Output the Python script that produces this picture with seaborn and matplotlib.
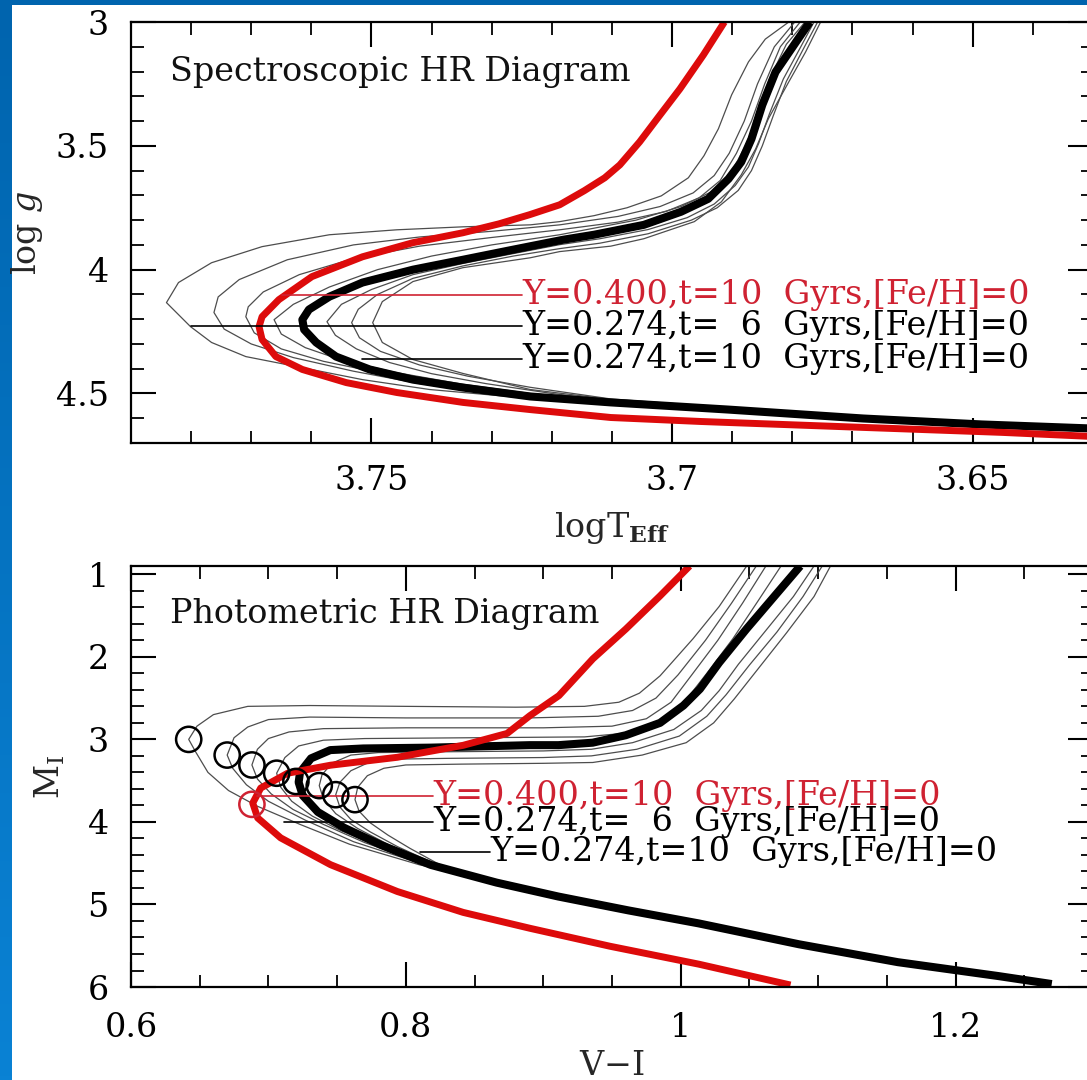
import matplotlib
matplotlib.use("Agg")
import matplotlib.pyplot as plt
from matplotlib.patches import Rectangle
from matplotlib.colors import LinearSegmentedColormap
from matplotlib.ticker import MultipleLocator, FuncFormatter
import numpy as np
import pandas as pd
import seaborn as sns

# ------------------------------------------------------------------
# Isochrones, spectroscopic plane: (log Teff, log g)
# ------------------------------------------------------------------
spec_y400_t10 = [(3.6913, 3.000), (3.6948, 3.133), (3.6987, 3.270), (3.7020, 3.375),
                 (3.7054, 3.484), (3.7087, 3.577), (3.7112, 3.629), (3.7146, 3.681),
                 (3.7187, 3.738), (3.7237, 3.778), (3.7288, 3.815), (3.7348, 3.851),
                 (3.7431, 3.891), (3.7515, 3.948), (3.7599, 4.028), (3.7654, 4.121),
                 (3.7682, 4.190), (3.7687, 4.230), (3.7682, 4.282), (3.7659, 4.351),
                 (3.7615, 4.403), (3.7542, 4.456), (3.7458, 4.496), (3.7348, 4.536),
                 (3.7236, 4.565), (3.7102, 4.597), (3.6953, 4.613), (3.6682, 4.637),
                 (3.6452, 4.657), (3.6306, 4.673)]

spec_y274_t10 = [(3.6771, 3.000), (3.6794, 3.081), (3.6828, 3.202), (3.6850, 3.335),
                 (3.6868, 3.472), (3.6885, 3.565), (3.6906, 3.633), (3.6940, 3.714),
                 (3.6985, 3.766), (3.7047, 3.819), (3.7130, 3.859), (3.7181, 3.879),
                 (3.7264, 3.919), (3.7348, 3.960), (3.7431, 4.000), (3.7515, 4.052),
                 (3.7570, 4.109), (3.7604, 4.161), (3.7615, 4.202), (3.7612, 4.242),
                 (3.7592, 4.294), (3.7559, 4.351), (3.7503, 4.403), (3.7431, 4.444),
                 (3.7348, 4.476), (3.7236, 4.512), (3.7102, 4.536), (3.6906, 4.565),
                 (3.6682, 4.601), (3.6485, 4.625), (3.6306, 4.641)]

spec_y274_t06 = [(3.6806, 3.000), (3.6845, 3.069), (3.6873, 3.161), (3.6901, 3.294),
                 (3.6923, 3.431), (3.6947, 3.540), (3.6973, 3.629), (3.7018, 3.702),
                 (3.7075, 3.750), (3.7130, 3.782), (3.7187, 3.806), (3.7236, 3.819),
                 (3.7348, 3.827), (3.7458, 3.839), (3.7570, 3.859), (3.7682, 3.907),
                 (3.7766, 3.972), (3.7821, 4.052), (3.7841, 4.133), (3.7801, 4.230),
                 (3.7766, 4.294), (3.7709, 4.351), (3.7625, 4.391), (3.7515, 4.444),
                 (3.7403, 4.484), (3.7236, 4.520), (3.7102, 4.540), (3.6906, 4.560),
                 (3.6682, 4.593)]

spec_y274_t07 = [(3.6796, 3.000), (3.6830, 3.100), (3.6858, 3.250), (3.6880, 3.400),
                 (3.6905, 3.530), (3.6930, 3.620), (3.6965, 3.690), (3.7020, 3.745),
                 (3.7090, 3.785), (3.7187, 3.819), (3.7300, 3.845), (3.7420, 3.868),
                 (3.7530, 3.900), (3.7640, 3.960), (3.7720, 4.040), (3.7755, 4.110),
                 (3.7762, 4.173), (3.7745, 4.240), (3.7700, 4.300), (3.7630, 4.355),
                 (3.7530, 4.410), (3.7420, 4.460), (3.7300, 4.500), (3.7150, 4.530),
                 (3.6950, 4.560), (3.6682, 4.597)]

spec_y274_t08 = [(3.6787, 3.000), (3.6820, 3.100), (3.6846, 3.250), (3.6868, 3.400),
                 (3.6893, 3.530), (3.6920, 3.640), (3.6955, 3.710), (3.7010, 3.765),
                 (3.7090, 3.808), (3.7187, 3.839), (3.7300, 3.870), (3.7420, 3.905),
                 (3.7530, 3.955), (3.7620, 4.020), (3.7680, 4.090), (3.7705, 4.150),
                 (3.7709, 4.190), (3.7695, 4.255), (3.7650, 4.320), (3.7580, 4.370),
                 (3.7480, 4.420), (3.7380, 4.460), (3.7260, 4.498), (3.7130, 4.525),
                 (3.6930, 4.558), (3.6682, 4.597)]

spec_y274_t09 = [(3.6779, 3.000), (3.6810, 3.090), (3.6838, 3.230), (3.6858, 3.380),
                 (3.6878, 3.500), (3.6900, 3.600), (3.6930, 3.680), (3.6985, 3.745),
                 (3.7060, 3.800), (3.7187, 3.859), (3.7300, 3.900), (3.7400, 3.945),
                 (3.7490, 4.000), (3.7570, 4.070), (3.7630, 4.140), (3.7662, 4.202),
                 (3.7650, 4.260), (3.7610, 4.315), (3.7550, 4.365), (3.7460, 4.415),
                 (3.7350, 4.462), (3.7236, 4.500), (3.7102, 4.530), (3.6906, 4.562),
                 (3.6682, 4.598)]

spec_y274_t11 = [(3.6764, 3.000), (3.6786, 3.100), (3.6815, 3.230), (3.6838, 3.370),
                 (3.6856, 3.490), (3.6873, 3.585), (3.6895, 3.660), (3.6930, 3.735),
                 (3.6975, 3.790), (3.7040, 3.838), (3.7120, 3.875), (3.7187, 3.899),
                 (3.7264, 3.935), (3.7348, 3.975), (3.7431, 4.020), (3.7500, 4.080),
                 (3.7550, 4.140), (3.7574, 4.210), (3.7560, 4.265), (3.7525, 4.320),
                 (3.7470, 4.375), (3.7400, 4.420), (3.7310, 4.460), (3.7200, 4.500),
                 (3.7102, 4.528), (3.6906, 4.560), (3.6682, 4.597)]

spec_y274_t12 = [(3.6758, 3.000), (3.6782, 3.110), (3.6810, 3.240), (3.6832, 3.380),
                 (3.6850, 3.500), (3.6868, 3.600), (3.6890, 3.680), (3.6925, 3.750),
                 (3.6968, 3.800), (3.7040, 3.855), (3.7120, 3.893), (3.7187, 3.915),
                 (3.7264, 3.945), (3.7348, 3.985), (3.7431, 4.035), (3.7490, 4.100),
                 (3.7522, 4.160), (3.7533, 4.214), (3.7520, 4.275), (3.7485, 4.330),
                 (3.7420, 4.385), (3.7340, 4.430), (3.7236, 4.475), (3.7102, 4.522),
                 (3.6906, 4.557), (3.6682, 4.595)]

spec_y274_t13 = [(3.6753, 3.000), (3.6778, 3.121), (3.6806, 3.242), (3.6840, 3.391),
                 (3.6861, 3.512), (3.6885, 3.617), (3.6918, 3.726), (3.6963, 3.806),
                 (3.7047, 3.875), (3.7102, 3.905), (3.7187, 3.927), (3.7236, 3.952),
                 (3.7348, 3.992), (3.7431, 4.048), (3.7482, 4.129), (3.7498, 4.214),
                 (3.7482, 4.294), (3.7431, 4.363), (3.7348, 4.419), (3.7236, 4.484),
                 (3.7102, 4.524), (3.6906, 4.556), (3.6682, 4.593)]

# ------------------------------------------------------------------
# Isochrones, photometric plane: (V-I, M_I)
# ------------------------------------------------------------------
phot_y400_t10 = [(1.0065, 0.900), (0.9848, 1.265), (0.9601, 1.663), (0.9361, 2.024),
                 (0.9114, 2.470), (0.8904, 2.711), (0.8737, 2.928), (0.8417, 3.072),
                 (0.7938, 3.217), (0.7452, 3.313), (0.7140, 3.410), (0.6944, 3.590),
                 (0.6886, 3.771), (0.6922, 3.952), (0.7089, 4.193), (0.7452, 4.518),
                 (0.7938, 4.843), (0.8417, 5.096), (0.8904, 5.289), (0.9485, 5.506),
                 (1.0131, 5.723), (1.0799, 5.976)]

phot_y274_t10 = [(1.087, 0.90), (1.068, 1.27), (1.048, 1.66), (1.028, 2.07), (1.014, 2.39),
                 (1.002, 2.59), (0.985, 2.80), (0.960, 2.95), (0.936, 3.04), (0.911, 3.07),
                 (0.890, 3.07), (0.818, 3.10), (0.769, 3.11), (0.745, 3.13), (0.731, 3.23),
                 (0.723, 3.40), (0.722, 3.52), (0.725, 3.68), (0.736, 3.88), (0.755, 4.07),
                 (0.782, 4.28), (0.818, 4.52), (0.866, 4.735), (0.911, 4.904), (0.962, 5.072),
                 (1.013, 5.229), (1.086, 5.482), (1.158, 5.699), (1.231, 5.867), (1.270, 5.964)]

phot_y274_t06 = [(1.048, 0.90), (1.028, 1.39), (1.009, 1.78), (0.985, 2.23), (0.970, 2.44),
                 (0.955, 2.55), (0.930, 2.60), (0.880, 2.61), (0.800, 2.60), (0.730, 2.59),
                 (0.685, 2.60), (0.660, 2.70), (0.648, 2.84), (0.642, 3.00), (0.647, 3.15),
                 (0.656, 3.40), (0.671, 3.62), (0.692, 3.81), (0.723, 4.03), (0.759, 4.27),
                 (0.810, 4.52), (0.866, 4.72), (0.912, 4.89)]

phot_y274_t07 = [(1.055, 0.90), (1.037, 1.35), (1.018, 1.80), (0.998, 2.22), (0.982, 2.50),
                 (0.965, 2.65), (0.940, 2.72), (0.890, 2.74), (0.800, 2.74), (0.730, 2.73),
                 (0.700, 2.76), (0.685, 2.85), (0.675, 2.98), (0.670, 3.19), (0.674, 3.35),
                 (0.684, 3.55), (0.700, 3.75), (0.727, 3.98), (0.762, 4.24), (0.812, 4.51),
                 (0.866, 4.72), (0.912, 4.89)]

phot_y274_t08 = [(1.062, 0.90), (1.045, 1.35), (1.027, 1.80), (1.008, 2.22), (0.993, 2.55),
                 (0.975, 2.75), (0.950, 2.84), (0.900, 2.86), (0.800, 2.86), (0.740, 2.87),
                 (0.715, 2.91), (0.700, 2.99), (0.692, 3.12), (0.688, 3.31), (0.692, 3.48),
                 (0.702, 3.66), (0.718, 3.85), (0.740, 4.03), (0.770, 4.25), (0.814, 4.51),
                 (0.866, 4.72), (0.912, 4.89)]

phot_y274_t09 = [(1.073, 0.90), (1.056, 1.33), (1.038, 1.78), (1.019, 2.20), (1.004, 2.52),
                 (0.988, 2.76), (0.963, 2.92), (0.930, 2.97), (0.850, 2.98), (0.770, 2.99),
                 (0.740, 3.01), (0.722, 3.08), (0.712, 3.22), (0.706, 3.41), (0.709, 3.58),
                 (0.717, 3.75), (0.732, 3.93), (0.752, 4.10), (0.778, 4.28), (0.816, 4.51),
                 (0.866, 4.72), (0.912, 4.89)]

phot_y274_t11 = [(1.097, 0.90), (1.082, 1.27), (1.062, 1.68), (1.042, 2.09), (1.028, 2.41),
                 (1.015, 2.65), (0.995, 2.88), (0.965, 3.04), (0.935, 3.12), (0.900, 3.14),
                 (0.830, 3.15), (0.780, 3.16), (0.760, 3.19), (0.746, 3.29), (0.739, 3.43),
                 (0.737, 3.56), (0.740, 3.72), (0.749, 3.90), (0.765, 4.08), (0.788, 4.28),
                 (0.820, 4.52), (0.866, 4.73), (0.912, 4.90)]

phot_y274_t12 = [(1.103, 0.90), (1.089, 1.27), (1.070, 1.70), (1.050, 2.10), (1.033, 2.46),
                 (1.019, 2.72), (0.999, 2.96), (0.968, 3.12), (0.935, 3.20), (0.900, 3.22),
                 (0.830, 3.23), (0.790, 3.24), (0.773, 3.28), (0.760, 3.38), (0.752, 3.52),
                 (0.749, 3.67), (0.752, 3.82), (0.760, 3.97), (0.774, 4.12), (0.794, 4.30),
                 (0.823, 4.52), (0.866, 4.73), (0.912, 4.90)]

phot_y274_t13 = [(1.109, 0.90), (1.097, 1.27), (1.077, 1.71), (1.058, 2.11), (1.039, 2.51),
                 (1.024, 2.80), (1.004, 3.04), (0.972, 3.19), (0.936, 3.28), (0.900, 3.29),
                 (0.840, 3.30), (0.800, 3.31), (0.784, 3.35), (0.772, 3.44), (0.765, 3.58),
                 (0.763, 3.73), (0.766, 3.87), (0.774, 4.01), (0.787, 4.16), (0.803, 4.32),
                 (0.826, 4.53), (0.866, 4.73), (0.912, 4.90)]

# Turn-off points (Y=0.274, ages 6..13 Gyr) and the Y=0.400 turn-off
turnoff_vi = [0.642, 0.670, 0.688, 0.706, 0.720, 0.737, 0.749, 0.763]
turnoff_mi = [3.00, 3.19, 3.31, 3.41, 3.51, 3.56, 3.67, 3.73]
turnoff_he_vi = [0.688]
turnoff_he_mi = [3.787]

# Annotation strings and leader lines
label_texts = ["Y=0.400,t=10  Gyrs,[Fe/H]=0",
               "Y=0.274,t=  6  Gyrs,[Fe/H]=0",
               "Y=0.274,t=10  Gyrs,[Fe/H]=0"]
spec_leader_y = [4.101, 4.228, 4.360]
spec_leader_x0 = [3.7649, 3.7801, 3.7515]
spec_leader_x1 = [3.7249, 3.7249, 3.7249]
phot_leader_y = [3.69, 4.00, 4.365]
phot_leader_x0 = [0.692, 0.711, 0.8105]
phot_leader_x1 = [0.820, 0.820, 0.8613]

RED = "#dd0b0b"
RED_TEXT = "#cf2232"
THIN = "#4d4d4d"
LINE_KW = dict(estimator=None, sort=False, legend=False,
               solid_joinstyle="round", solid_capstyle="butt")


def frame(pairs, name):
    return pd.DataFrame(pairs, columns=["x", "y"]).assign(curve=name)


spec_thin = pd.concat([frame(spec_y274_t06, "6"), frame(spec_y274_t07, "7"),
                       frame(spec_y274_t08, "8"), frame(spec_y274_t09, "9"),
                       frame(spec_y274_t11, "11"), frame(spec_y274_t12, "12"),
                       frame(spec_y274_t13, "13")], ignore_index=True)
phot_thin = pd.concat([frame(phot_y274_t06, "6"), frame(phot_y274_t07, "7"),
                       frame(phot_y274_t08, "8"), frame(phot_y274_t09, "9"),
                       frame(phot_y274_t11, "11"), frame(phot_y274_t12, "12"),
                       frame(phot_y274_t13, "13")], ignore_index=True)

sns.set_theme(style="ticks")
plt.rcParams.update({
    "font.family": ["DejaVu Serif"],
    "mathtext.fontset": "dejavuserif",
    "axes.edgecolor": "black",
    "axes.linewidth": 1.6,
    "axes.facecolor": "white",
    "xtick.color": "black", "ytick.color": "black",
    "xtick.direction": "in", "ytick.direction": "in",
    "xtick.top": True, "ytick.right": True,
    "xtick.major.size": 18, "ytick.major.size": 18,
    "xtick.minor.size": 9, "ytick.minor.size": 9,
    "xtick.major.width": 1.5, "ytick.major.width": 1.5,
    "xtick.minor.width": 1.3, "ytick.minor.width": 1.3,
    "xtick.labelsize": 24, "ytick.labelsize": 24,
    "axes.labelsize": 24,
    "text.color": "#111111",
})

fig = plt.figure(figsize=(10.87, 10.80), dpi=100)

# slide frame: blue gradient behind a white page
bg = fig.add_axes([0, 0, 1, 1], zorder=-10)
bg.imshow(np.linspace(0, 1, 256).reshape(-1, 1), aspect="auto", extent=(0, 1, 0, 1),
          cmap=LinearSegmentedColormap.from_list("frame", ["#0064ae", "#0a82d4"]))
bg.add_patch(Rectangle((12 / 1087, 0), 1, 1 - 5 / 1080, facecolor="white",
                       edgecolor="none", transform=bg.transAxes))
bg.set_axis_off()

ax1 = fig.add_axes([0.1205, 0.5898, 0.885, 0.3898])
ax2 = fig.add_axes([0.1205, 0.0861, 0.885, 0.3898])

fmt = FuncFormatter(lambda v, _: f"{v:g}")

# ---------------- spectroscopic panel ----------------
sns.lineplot(data=spec_thin, x="x", y="y", units="curve", color=THIN, lw=0.9, ax=ax1,
             **LINE_KW)
sns.lineplot(data=frame(spec_y274_t10, "10"), x="x", y="y", color="black", lw=5.8,
             ax=ax1, **LINE_KW)
sns.lineplot(data=frame(spec_y400_t10, "he"), x="x", y="y", color=RED, lw=5.0, ax=ax1,
             **LINE_KW)
for i, (yv, x0, x1) in enumerate(zip(spec_leader_y, spec_leader_x0, spec_leader_x1)):
    col = RED_TEXT if i == 0 else "black"
    ax1.plot([x0, x1], [yv, yv], color=col, lw=1.2, zorder=5)
    ax1.text(x1, yv, label_texts[i], color=col, fontsize=24, ha="left", va="center",
             zorder=6)
ax1.text(0.0405, 0.881, "Spectroscopic HR Diagram", transform=ax1.transAxes,
         fontsize=24, ha="left", va="center")

ax1.set_xlim(3.79, 3.63)
ax1.set_ylim(4.7, 3.0)
ax1.xaxis.set_major_locator(MultipleLocator(0.05))
ax1.xaxis.set_minor_locator(MultipleLocator(0.01))
ax1.yaxis.set_major_locator(MultipleLocator(0.5))
ax1.yaxis.set_minor_locator(MultipleLocator(0.1))
ax1.xaxis.set_major_formatter(fmt)
ax1.yaxis.set_major_formatter(fmt)
ax1.tick_params(axis="x", which="both", pad=16)
ax1.tick_params(axis="y", which="both", pad=16)
ax1.set_xlabel(r"logT$_{\mathbf{Eff}}$")
ax1.set_ylabel(r"log $g$")
ax1.xaxis.set_label_coords(0.5, -0.16)
ax1.yaxis.set_label_coords(-0.089, 0.5)

# ---------------- photometric panel ----------------
sns.lineplot(data=phot_thin, x="x", y="y", units="curve", color=THIN, lw=0.9, ax=ax2,
             **LINE_KW)
sns.lineplot(data=frame(phot_y274_t10, "10"), x="x", y="y", color="black", lw=5.8,
             ax=ax2, **LINE_KW)
sns.lineplot(data=frame(phot_y400_t10, "he"), x="x", y="y", color=RED, lw=5.0, ax=ax2,
             **LINE_KW)
sns.scatterplot(x=turnoff_vi, y=turnoff_mi, marker="o", s=330, facecolors="none",
                edgecolors="black", linewidths=1.8, ax=ax2, zorder=7, legend=False)
sns.scatterplot(x=turnoff_he_vi, y=turnoff_he_mi, marker="o", s=330, facecolors="none",
                edgecolors=RED_TEXT, linewidths=1.8, ax=ax2, zorder=7, legend=False)
for i, (yv, x0, x1) in enumerate(zip(phot_leader_y, phot_leader_x0, phot_leader_x1)):
    col = RED_TEXT if i == 0 else "black"
    ax2.plot([x0, x1], [yv, yv], color=col, lw=1.2, zorder=5)
    ax2.text(x1, yv, label_texts[i], color=col, fontsize=24, ha="left", va="center",
             zorder=6)
ax2.text(0.0405, 0.886, "Photometric HR Diagram", transform=ax2.transAxes,
         fontsize=24, ha="left", va="center")

ax2.set_xlim(0.6, 1.3)
ax2.set_ylim(6.0, 0.9)
ax2.xaxis.set_major_locator(MultipleLocator(0.2))
ax2.xaxis.set_minor_locator(MultipleLocator(0.05))
ax2.yaxis.set_major_locator(MultipleLocator(1))
ax2.yaxis.set_minor_locator(MultipleLocator(0.2))
ax2.xaxis.set_major_formatter(fmt)
ax2.yaxis.set_major_formatter(fmt)
ax2.tick_params(axis="x", which="both", pad=18)
ax2.tick_params(axis="y", which="both", pad=16)
ax2.set_xlabel(r"V$-$I")
ax2.set_ylabel(r"M$_{\rm I}$")
ax2.xaxis.set_label_coords(0.5, -0.15)
ax2.yaxis.set_label_coords(-0.066, 0.5)

fig.savefig("out.png", dpi=100)
